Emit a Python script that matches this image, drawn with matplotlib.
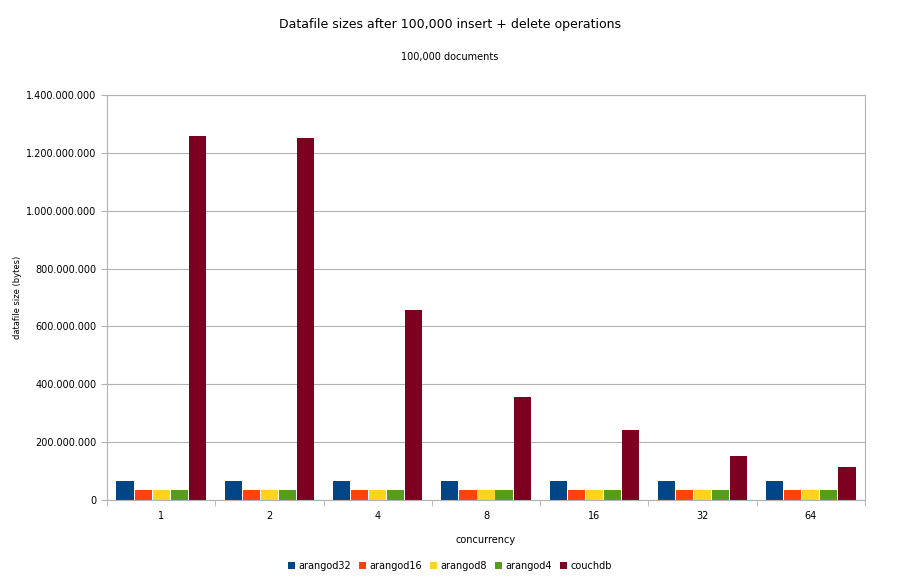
import matplotlib
matplotlib.use("Agg")
import matplotlib.pyplot as plt
import numpy as np
from matplotlib.ticker import FuncFormatter

categories = ["1", "2", "4", "8", "16", "32", "64"]
series = ["arangod32", "arangod16", "arangod8", "arangod4", "couchdb"]
arangod32 = [67e6, 67e6, 67e6, 67e6, 67e6, 67e6, 67e6]
arangod16 = [35e6, 35e6, 35e6, 35e6, 35e6, 35e6, 35e6]
arangod8 = [34e6, 34e6, 34e6, 34e6, 34e6, 34e6, 34e6]
arangod4 = [34e6, 34e6, 34e6, 34e6, 34e6, 34e6, 34e6]
couchdb = [1258e6, 1252e6, 657e6, 356e6, 242e6, 152e6, 114e6]
colors = ["#004586", "#ff420e", "#ffd320", "#579d1c", "#7e0021"]

fig = plt.figure(figsize=(9, 5.77), dpi=100)
ax = fig.add_axes([0.119, 0.1334, 0.842, 0.702])
x = np.arange(len(categories))
w = 0.167
data = [arangod32, arangod16, arangod8, arangod4, couchdb]
for i, (name, vals, c) in enumerate(zip(series, data, colors)):
    ax.bar(x - 2 * w + i * w, vals, w * 0.95, color=c, label=name)
ax.set_xlim(-0.5, len(categories) - 0.5)
ax.set_ylim(0, 1.4e9)
ax.set_yticks(np.arange(0, 1.41e9, 2e8))
ax.yaxis.set_major_formatter(FuncFormatter(lambda v, p: f"{int(v):,}".replace(",", ".")))
ax.set_xticks(x)
ax.set_xticklabels(categories)
ax.set_xticks(np.arange(-0.5, len(categories), 1), minor=True)
ax.tick_params(axis="x", which="major", length=0, labelsize=7, pad=8)
ax.tick_params(axis="x", which="minor", length=4, color="#b3b3b3")
ax.tick_params(axis="y", labelsize=7, length=4, color="#b3b3b3")
ax.grid(axis="y", color="#b3b3b3", linewidth=0.8)
ax.set_axisbelow(True)
for s in ax.spines.values():
    s.set_color("#b3b3b3")
ax.set_xlabel("concurrency", fontsize=7, labelpad=10)
fig.text(0.02, 0.485, "datafile size (bytes)", rotation=90, ha="center", va="center", fontsize=6)
fig.text(0.5, 0.958, "Datafile sizes after 100,000 insert + delete operations", ha="center", va="center", fontsize=9)
fig.text(0.5, 0.902, "100,000 documents", ha="center", va="center", fontsize=7)
fig.legend(loc="center", bbox_to_anchor=(0.5, 0.019), ncol=5, frameon=False, fontsize=7,
           handlelength=0.7, handleheight=0.7, handletextpad=0.4, columnspacing=0.8)
fig.savefig("out.png", dpi=100, facecolor="white")
